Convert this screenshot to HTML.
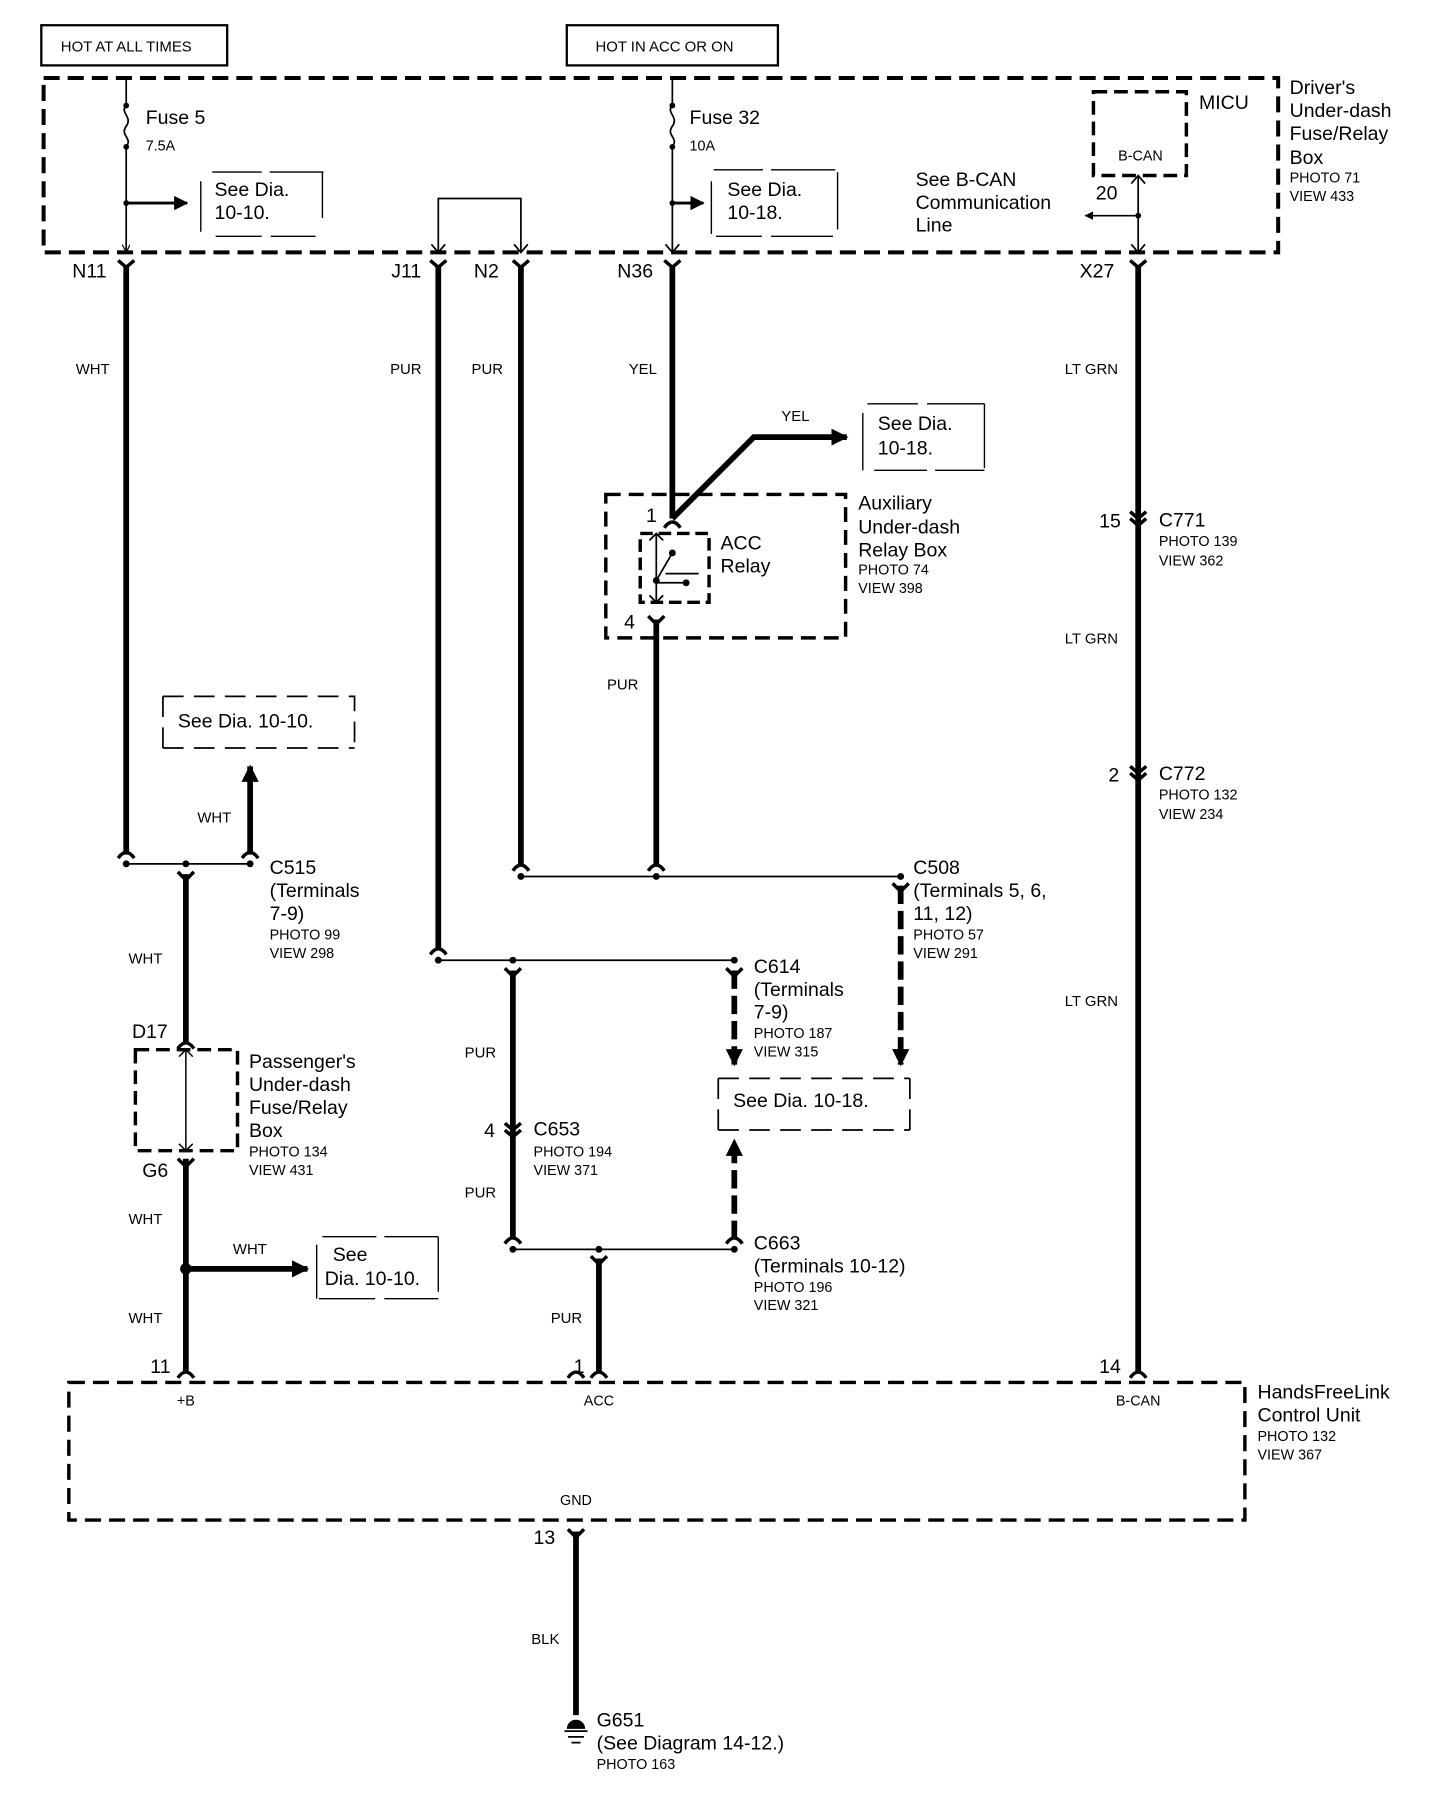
<!DOCTYPE html>
<html><head><meta charset="utf-8"><style>
html,body{margin:0;padding:0;background:#fff;}
svg{display:block;}
text{font-family:"Liberation Sans",Arial,sans-serif;fill:#000;}
.b{font-size:17px;}
.s{font-size:12.5px;}
.w{font-size:13px;}
</style></head><body>
<svg width="1456" height="1800" viewBox="0 0 1269 1569" preserveAspectRatio="none" xmlns="http://www.w3.org/2000/svg">
<defs>
<marker id="ar" viewBox="0 0 10 10" refX="9" refY="5" markerWidth="3" markerHeight="3" orient="auto"><path d="M0,0L10,5L0,10z"/></marker>
<marker id="as" viewBox="0 0 10 10" refX="9" refY="5" markerWidth="5" markerHeight="5" orient="auto"><path d="M0,0L10,5L0,10z"/></marker>
<marker id="ao" viewBox="0 0 10 10" refX="10" refY="5" markerWidth="7" markerHeight="7" orient="auto" markerUnits="userSpaceOnUse"><path d="M0,0L10,5L0,10" fill="none" stroke="#000" stroke-width="1.5"/></marker>
</defs>
<g fill="none" stroke="#000">
<rect x="36" y="22" width="162" height="35" stroke-width="2"/>
<rect x="494" y="22" width="184" height="35" stroke-width="2"/>
<rect x="38" y="68" width="1076" height="152" stroke-width="3.5" stroke-dasharray="14 7"/>
<path d="M110 68V92M110 128V220" stroke-width="1.5" marker-end="url(#ao)"/>
<path d="M110 92c-6 6 6 10 0 18c-6 8 6 10 0 18" stroke-width="1.5"/>
<path d="M110 177H163" stroke-width="2.5" marker-end="url(#as)"/>
<path d="M175 158V202M281 150V190M185 150H228M235 150H282M188 206H228M236 206H275" stroke-width="1.2"/>
<path d="M382 220V173H454V220" stroke-width="1.5"/>
<path d="M376 213L382 220L388 213M448 213L454 220L460 213" stroke-width="1.5"/>
<path d="M586 68V92M586 128V220" stroke-width="1.5"/>
<path d="M580 213L586 220L592 213" stroke-width="1.5"/>
<path d="M586 92c-6 6 6 10 0 18c-6 8 6 10 0 18" stroke-width="1.5"/>
<path d="M586 177H613" stroke-width="2.5" marker-end="url(#as)"/>
<path d="M620 158V204M730 150V200M622 148H665M672 148H728M624 206H664M672 206H726" stroke-width="1.2"/>
<rect x="953" y="80" width="81" height="73" stroke-width="3" stroke-dasharray="12 6"/>
<path d="M992 153V220" stroke-width="1.5"/>
<path d="M986 160L992 153L998 160M986 213L992 220L998 213" stroke-width="1.5"/>
<path d="M992 188H946" stroke-width="1.5" marker-end="url(#as)"/>
<g stroke-width="5">
<path d="M110 232V745"/>
<path d="M382 232V828"/>
<path d="M454 232V754"/>
<path d="M586 232V452"/>
<path d="M992 232V1195"/>
<path d="M586 452L657 381H738" marker-end="url(#ar)"/>
<path d="M572 540V754"/>
<path d="M218 745V668" marker-end="url(#ar)"/>
<path d="M162 762V910"/>
<path d="M162 1010V1195"/>
<path d="M162 1106H268" marker-end="url(#ar)"/>
<path d="M447 846V1080"/>
<path d="M522 1097V1195"/>
<path d="M502 1335V1495"/>
<path d="M785 772V928" stroke-dasharray="16 6" marker-end="url(#ar)"/>
<path d="M640 846V928" stroke-dasharray="16 6" marker-end="url(#ar)"/>
<path d="M640 1080V994" stroke-dasharray="16 6" marker-end="url(#ar)"/>
</g>
<g stroke-width="3">
<path d="M103 227L110 233L117 227M375 227L382 233L389 227M447 227L454 233L461 227M579 227L586 233L593 227M985 227L992 233L999 227"/>
<path d="M985 446L992 452L999 446M985 452L992 458L999 452"/>
<path d="M985 668L992 674L999 668M985 674L992 680L999 674"/>
<path d="M440 979L447 985L454 979M440 985L447 991L454 985"/>
<path d="M103 748Q110 738 117 748M211 748Q218 738 225 748M375 832Q382 822 389 832M447 759Q454 749 461 759M565 759Q572 749 579 759M440 1084Q447 1074 454 1084M633 1084Q640 1074 647 1084M155 914Q162 904 169 914M579 460Q586 450 593 460M495 1201Q502 1191 509 1201"/>
<path d="M155 1201Q162 1191 169 1201M515 1201Q522 1191 529 1201M985 1201Q992 1191 999 1201"/>
<path d="M155 760L162 767L169 760M778 770L785 777L792 770M440 844L447 851L454 844M633 844L640 851L647 844M515 1095L522 1102L529 1095M155 1010L162 1017L169 1010M565 537L572 544L579 537M495 1333L502 1340L509 1333"/>
</g>
<path d="M110 753H218M454 764H785M382 837H640M447 1089H640" stroke-width="1.5"/>
<path d="M752 360V410M858 352V408M756 352H800M808 352H858M762 410H808M815 410H858" stroke-width="1.2"/>
<path d="M142 607H309V652M142 607V652M142 652H309" stroke-width="1.5" stroke-dasharray="18 9"/>
<path d="M626 940V985M793 940V985M626 940H793M626 985H793" stroke-width="1.5" stroke-dasharray="18 9"/>
<path d="M276 1085V1132M382 1078V1126M281 1078H328M335 1078H382M278 1132H327M335 1132H382" stroke-width="1.2"/>
<rect x="528" y="431" width="209" height="125" stroke-width="3" stroke-dasharray="13 7"/>
<rect x="558" y="465" width="60" height="60" stroke-width="3" stroke-dasharray="11 5"/>
<path d="M572 465V525M566 471L572 465L578 471M566 519L572 525L578 519" stroke-width="1.5"/>
<path d="M572 506L586 482M580 500H609M572 508H598" stroke-width="1.5"/>
<rect x="118" y="915" width="89" height="88" stroke-width="3" stroke-dasharray="12 6"/>
<path d="M162 915V1003M156 921L162 915L168 921M156 997L162 1003L168 997" stroke-width="1.3"/>
<rect x="60" y="1205" width="1025" height="120" stroke-width="3" stroke-dasharray="14 7"/>
<path d="M492 1509H512M495 1514H509M498 1519H506" stroke-width="1.5"/>
</g>
<g fill="#000">
<circle cx="110" cy="92" r="2.5"/><circle cx="110" cy="128" r="2.5"/><circle cx="110" cy="177" r="2.5"/>
<circle cx="586" cy="92" r="2.5"/><circle cx="586" cy="128" r="2.5"/><circle cx="586" cy="177" r="2.5"/>
<circle cx="992" cy="188" r="2.5"/>
<circle cx="110" cy="753" r="3"/><circle cx="162" cy="753" r="3"/><circle cx="218" cy="753" r="3"/>
<circle cx="454" cy="764" r="3"/><circle cx="572" cy="764" r="3"/><circle cx="785" cy="764" r="3"/>
<circle cx="382" cy="837" r="3"/><circle cx="447" cy="837" r="3"/><circle cx="640" cy="837" r="3"/>
<circle cx="447" cy="1089" r="3"/><circle cx="522" cy="1089" r="3"/><circle cx="640" cy="1089" r="3"/>
<circle cx="162" cy="1106" r="5"/>
<circle cx="586" cy="482" r="3"/><circle cx="572" cy="506" r="3"/><circle cx="598" cy="508" r="3"/>
<path d="M494 1507a8 8 0 0 1 16 0z"/>
</g>
<text x="53" y="45" class="w">HOT AT ALL TIMES</text>
<text x="519" y="45" class="w">HOT IN ACC OR ON</text>
<text x="127" y="108" class="b">Fuse 5</text><text x="127" y="131" class="s">7.5A</text>
<text x="187" y="171" class="b">See Dia.</text><text x="187" y="191" class="b">10-10.</text>
<text x="601" y="108" class="b">Fuse 32</text><text x="601" y="131" class="s">10A</text>
<text x="634" y="171" class="b">See Dia.</text><text x="634" y="191" class="b">10-18.</text>
<text x="1045" y="95" class="b">MICU</text>
<text x="994" y="140" class="s" text-anchor="middle">B-CAN</text>
<text x="955" y="174" class="b">20</text>
<text x="798" y="162" class="b">See B-CAN</text><text x="798" y="182" class="b">Communication</text><text x="798" y="202" class="b">Line</text>
<text x="1124" y="82" class="b">Driver's</text><text x="1124" y="102" class="b">Under-dash</text><text x="1124" y="122" class="b">Fuse/Relay</text><text x="1124" y="143" class="b">Box</text>
<text x="1124" y="159" class="s">PHOTO 71</text><text x="1124" y="175" class="s">VIEW 433</text>
<text x="63" y="242" class="b">N11</text><text x="341" y="242" class="b">J11</text><text x="413" y="242" class="b">N2</text><text x="538" y="242" class="b">N36</text><text x="941" y="242" class="b">X27</text>
<text x="66" y="326" class="w">WHT</text><text x="340" y="326" class="w">PUR</text><text x="411" y="326" class="w">PUR</text><text x="548" y="326" class="w">YEL</text><text x="928" y="326" class="w">LT GRN</text>
<text x="681" y="367" class="w">YEL</text>
<text x="765" y="375" class="b">See Dia.</text><text x="765" y="396" class="b">10-18.</text>
<text x="563" y="455" class="b">1</text><text x="544" y="548" class="b">4</text>
<text x="628" y="479" class="b">ACC</text><text x="628" y="499" class="b">Relay</text>
<text x="748" y="444" class="b">Auxiliary</text><text x="748" y="465" class="b">Under-dash</text><text x="748" y="485" class="b">Relay Box</text>
<text x="748" y="501" class="s">PHOTO 74</text><text x="748" y="517" class="s">VIEW 398</text>
<text x="529" y="601" class="w">PUR</text>
<text x="958" y="460" class="b">15</text><text x="1010" y="459" class="b">C771</text><text x="1010" y="476" class="s">PHOTO 139</text><text x="1010" y="493" class="s">VIEW 362</text>
<text x="928" y="561" class="w">LT GRN</text>
<text x="966" y="681" class="b">2</text><text x="1010" y="680" class="b">C772</text><text x="1010" y="697" class="s">PHOTO 132</text><text x="1010" y="714" class="s">VIEW 234</text>
<text x="928" y="877" class="w">LT GRN</text>
<text x="155" y="634" class="b">See Dia. 10-10.</text>
<text x="172" y="717" class="w">WHT</text>
<text x="235" y="762" class="b">C515</text><text x="235" y="782" class="b">(Terminals</text><text x="235" y="802" class="b">7-9)</text><text x="235" y="819" class="s">PHOTO 99</text><text x="235" y="835" class="s">VIEW 298</text>
<text x="796" y="762" class="b">C508</text><text x="796" y="782" class="b">(Terminals 5, 6,</text><text x="796" y="802" class="b">11, 12)</text><text x="796" y="819" class="s">PHOTO 57</text><text x="796" y="835" class="s">VIEW 291</text>
<text x="112" y="840" class="w">WHT</text>
<text x="657" y="848" class="b">C614</text><text x="657" y="868" class="b">(Terminals</text><text x="657" y="888" class="b">7-9)</text><text x="657" y="905" class="s">PHOTO 187</text><text x="657" y="921" class="s">VIEW 315</text>
<text x="115" y="905" class="b">D17</text>
<text x="217" y="931" class="b">Passenger's</text><text x="217" y="951" class="b">Under-dash</text><text x="217" y="971" class="b">Fuse/Relay</text><text x="217" y="991" class="b">Box</text>
<text x="217" y="1008" class="s">PHOTO 134</text><text x="217" y="1024" class="s">VIEW 431</text>
<text x="124" y="1026" class="b">G6</text>
<text x="405" y="922" class="w">PUR</text>
<text x="639" y="965" class="b">See Dia. 10-18.</text>
<text x="422" y="991" class="b">4</text><text x="465" y="990" class="b">C653</text><text x="465" y="1008" class="s">PHOTO 194</text><text x="465" y="1024" class="s">VIEW 371</text>
<text x="405" y="1044" class="w">PUR</text>
<text x="112" y="1067" class="w">WHT</text>
<text x="203" y="1093" class="w">WHT</text>
<text x="290" y="1099" class="b">See</text><text x="283" y="1120" class="b">Dia. 10-10.</text>
<text x="657" y="1089" class="b">C663</text><text x="657" y="1109" class="b">(Terminals 10-12)</text><text x="657" y="1126" class="s">PHOTO 196</text><text x="657" y="1142" class="s">VIEW 321</text>
<text x="112" y="1153" class="w">WHT</text><text x="480" y="1153" class="w">PUR</text>
<text x="131" y="1197" class="b">11</text><text x="500" y="1197" class="b">1</text><text x="958" y="1197" class="b">14</text>
<text x="162" y="1225" class="s" text-anchor="middle">+B</text>
<text x="522" y="1225" class="s" text-anchor="middle">ACC</text>
<text x="992" y="1225" class="s" text-anchor="middle">B-CAN</text>
<text x="502" y="1312" class="s" text-anchor="middle">GND</text>
<text x="1096" y="1219" class="b">HandsFreeLink</text><text x="1096" y="1239" class="b">Control Unit</text><text x="1096" y="1256" class="s">PHOTO 132</text><text x="1096" y="1272" class="s">VIEW 367</text>
<text x="465" y="1346" class="b">13</text>
<text x="463" y="1433" class="w">BLK</text>
<text x="520" y="1505" class="b">G651</text><text x="520" y="1525" class="b">(See Diagram 14-12.)</text><text x="520" y="1542" class="s">PHOTO 163</text>
</svg>
</body></html>
